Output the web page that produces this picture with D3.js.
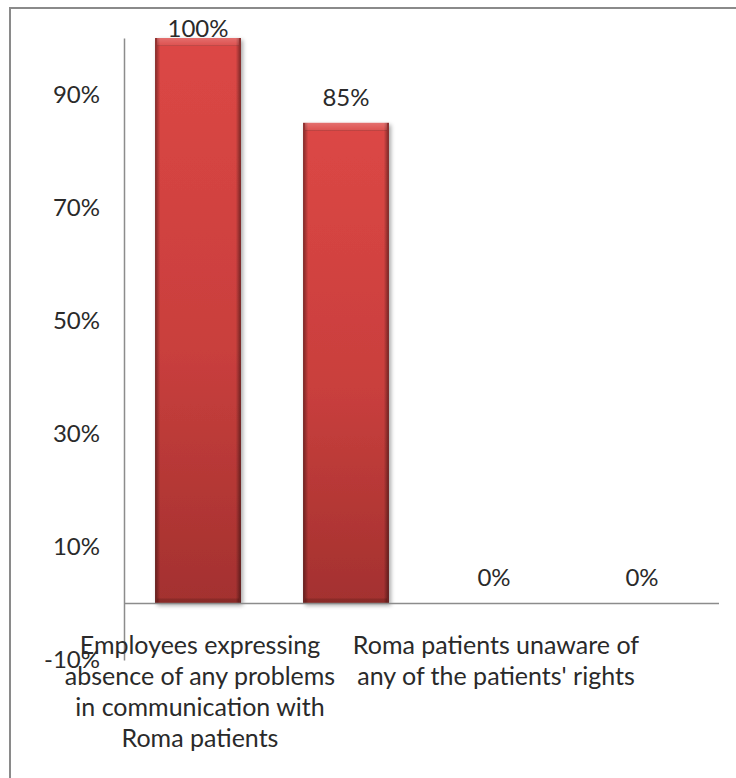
<!DOCTYPE html>
<html>
<head>
<meta charset="utf-8">
<script src="https://cdn.jsdelivr.net/npm/d3@7"></script>
<style>
  html, body { margin: 0; padding: 0; background: #fff; }
  svg { display: block; font-family: Lato, "Open Sans", sans-serif; }
</style>
</head>
<body>
<svg id="chart" width="736" height="778"></svg>
<script>
// Category labels (only the first and third carry wrapped text on the axis)
const categoryKeys = ["c1", "c2", "c3", "c4"];
const categoryLines = [
  ["Employees expressing", "absence of any problems", "in communication with", "Roma patients"],
  [],
  ["Roma patients unaware of", "any of the patients' rights"],
  []
];
// Percent values per bar
const values = [100, 85, 0, 0];
// Y axis tick values
const yTicks = [-10, 10, 30, 50, 70, 90];

const svg = d3.select("#chart");
const plot = { left: 124, right: 716, top: 38, bottom: 660 };
const textColor = "#2a2a2a";

const defs = svg.append("defs");
const vg = defs.append("linearGradient").attr("id", "barBody")
  .attr("x1", 0).attr("y1", 0).attr("x2", 0).attr("y2", 1);
vg.append("stop").attr("offset", "0%").attr("stop-color", "#dc4745");
vg.append("stop").attr("offset", "55%").attr("stop-color", "#c93f3d");
vg.append("stop").attr("offset", "100%").attr("stop-color", "#a3312f");

const hg = defs.append("linearGradient").attr("id", "barSides")
  .attr("x1", 0).attr("y1", 0).attr("x2", 1).attr("y2", 0);
hg.append("stop").attr("offset", "0%").attr("stop-color", "#000").attr("stop-opacity", 0.42);
hg.append("stop").attr("offset", "6%").attr("stop-color", "#000").attr("stop-opacity", 0.0);
hg.append("stop").attr("offset", "94%").attr("stop-color", "#000").attr("stop-opacity", 0.0);
hg.append("stop").attr("offset", "100%").attr("stop-color", "#000").attr("stop-opacity", 0.45);

const tg = defs.append("linearGradient").attr("id", "barTop")
  .attr("x1", 0).attr("y1", 0).attr("x2", 0).attr("y2", 1);
tg.append("stop").attr("offset", "0%").attr("stop-color", "#fff").attr("stop-opacity", 0.22);
tg.append("stop").attr("offset", "80%").attr("stop-color", "#fff").attr("stop-opacity", 0.08);
tg.append("stop").attr("offset", "100%").attr("stop-color", "#000").attr("stop-opacity", 0.25);

const shadow = defs.append("filter").attr("id", "shadow")
  .attr("x", "-20%").attr("y", "-5%").attr("width", "140%").attr("height", "115%");
shadow.append("feDropShadow").attr("dx", 2).attr("dy", 2)
  .attr("stdDeviation", 2).attr("flood-color", "#000").attr("flood-opacity", 0.35);

// Outer chart frame
svg.append("rect")
  .attr("x", 10).attr("y", 8).attr("width", 900).attr("height", 900)
  .attr("fill", "none").attr("stroke", "#8a8a8a").attr("stroke-width", 2);

const x = d3.scaleBand().domain(categoryKeys)
  .range([plot.left, plot.right]).paddingInner(0.42).paddingOuter(0.21);
const y = d3.scaleLinear().domain([-10, 100]).range([plot.bottom, plot.top]);

// Y axis
const yAxis = d3.axisLeft(y).tickValues(yTicks)
  .tickFormat(d => d + "%").tickSize(0).tickPadding(24);
const gy = svg.append("g").attr("transform", `translate(${plot.left},0)`).call(yAxis);
gy.select(".domain").attr("stroke", "#8c8c8c").attr("stroke-width", 1.5);
gy.selectAll("text").attr("font-size", 24).attr("fill", textColor)
  .attr("font-family", "Lato, 'Open Sans', sans-serif");

// Bars
const bars = svg.append("g").selectAll("g.bar")
  .data(values.map((v, i) => ({ key: categoryKeys[i], v })))
  .join("g").attr("class", "bar");
const barRect = d => ({
  x: x(d.key), w: x.bandwidth(),
  y: y(Math.max(d.v, 0)), h: Math.abs(y(d.v) - y(0))
});
bars.filter(d => d.v !== 0).each(function (d) {
  const r = barRect(d);
  const g = d3.select(this);
  g.append("rect").attr("x", r.x).attr("y", r.y).attr("width", r.w).attr("height", r.h)
    .attr("fill", "url(#barBody)").attr("filter", "url(#shadow)");
  g.append("rect").attr("x", r.x).attr("y", r.y).attr("width", r.w).attr("height", r.h)
    .attr("fill", "url(#barSides)");
  g.append("rect").attr("x", r.x + 2).attr("y", r.y).attr("width", r.w - 4).attr("height", 8)
    .attr("fill", "url(#barTop)");
  g.append("rect").attr("x", r.x + 2).attr("y", r.y + r.h - 5).attr("width", r.w - 4).attr("height", 5)
    .attr("fill", "#000").attr("opacity", 0.15);
});

// X axis baseline at 0%
svg.append("line")
  .attr("x1", plot.left).attr("x2", 719)
  .attr("y1", y(0)).attr("y2", y(0))
  .attr("stroke", "#8c8c8c").attr("stroke-width", 1.5);

// Value labels above bars, kept inside the plot top
svg.append("g").selectAll("text")
  .data(values.map((v, i) => ({ key: categoryKeys[i], v })))
  .join("text")
  .attr("x", d => x(d.key) + x.bandwidth() / 2)
  .attr("y", d => Math.max(y(d.v) - 17, y(100) - 1))
  .attr("text-anchor", "middle")
  .attr("font-size", 24).attr("fill", textColor)
  .text(d => d.v + "%");

// Wrapped category labels
const labelTop = 654, lineGap = 31;
svg.append("g").selectAll("text")
  .data(categoryKeys.map((k, i) => ({ key: k, lines: categoryLines[i] })))
  .join("text")
  .attr("text-anchor", "middle")
  .attr("font-size", 25).attr("fill", textColor)
  .each(function (d) {
    const cx = x(d.key) + x.bandwidth() / 2 + 2;
    d3.select(this).selectAll("tspan").data(d.lines).join("tspan")
      .attr("x", cx).attr("y", (l, j) => labelTop + j * lineGap)
      .text(l => l);
  });
</script>
</body>
</html>
